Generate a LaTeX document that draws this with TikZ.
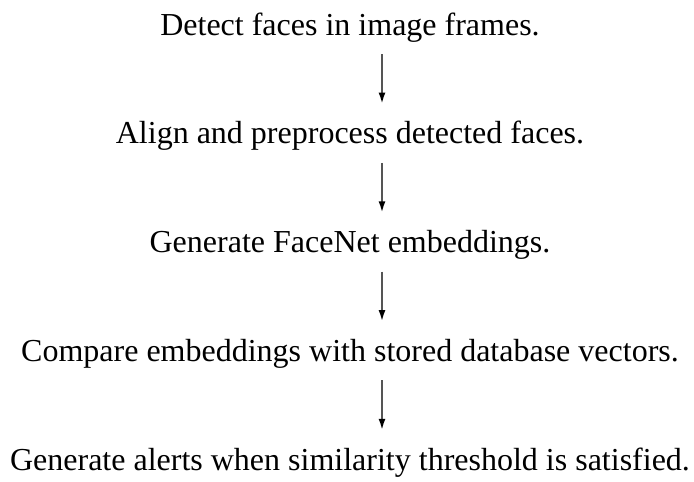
\documentclass[tikz,border=0pt]{standalone}
\usepackage{fontspec}
\setmainfont{Liberation Serif}
\usepackage{tikz}
\usetikzlibrary{arrows.meta,positioning,calc}
\usepackage{xcolor}
\definecolor{flowgray}{RGB}{85,85,85}

\tikzset{
  stepline/.style={font=\fontsize{32}{38}\selectfont, anchor=base, inner sep=0pt,
    text height=22pt, text depth=7pt},
  flowarrow/.style={draw=flowgray, line width=2.4pt,
    -{Latex[length=12pt,width=7pt,black]}, shorten <=12pt, shorten >=17pt}
}

\begin{document}
\begin{tikzpicture}[x=1pt,y=1pt]
\useasboundingbox (0,0) rectangle (694,-482);
% pipeline steps
\node[stepline] (detect)  at (350,-35)     {Detect faces in image frames.};
\node[stepline] (align)   at (350,-143.75) {Align and preprocess detected faces.};
\node[stepline] (embed)   at (350,-252.5)  {Generate FaceNet embeddings.};
\node[stepline] (compare) at (350,-361.25) {Compare embeddings with stored database vectors.};
\node[stepline] (alert)   at (350,-470)    {Generate alerts when similarity threshold is satisfied.};
% arrows between steps
\draw[flowarrow] ([xshift=32pt]detect.south)  -- ([xshift=32pt]align.north);
\draw[flowarrow] ([xshift=32pt]align.south)   -- ([xshift=32pt]embed.north);
\draw[flowarrow] ([xshift=32pt]embed.south)   -- ([xshift=32pt]compare.north);
\draw[flowarrow] ([xshift=32pt]compare.south) -- ([xshift=32pt]alert.north);
\end{tikzpicture}
\end{document}
